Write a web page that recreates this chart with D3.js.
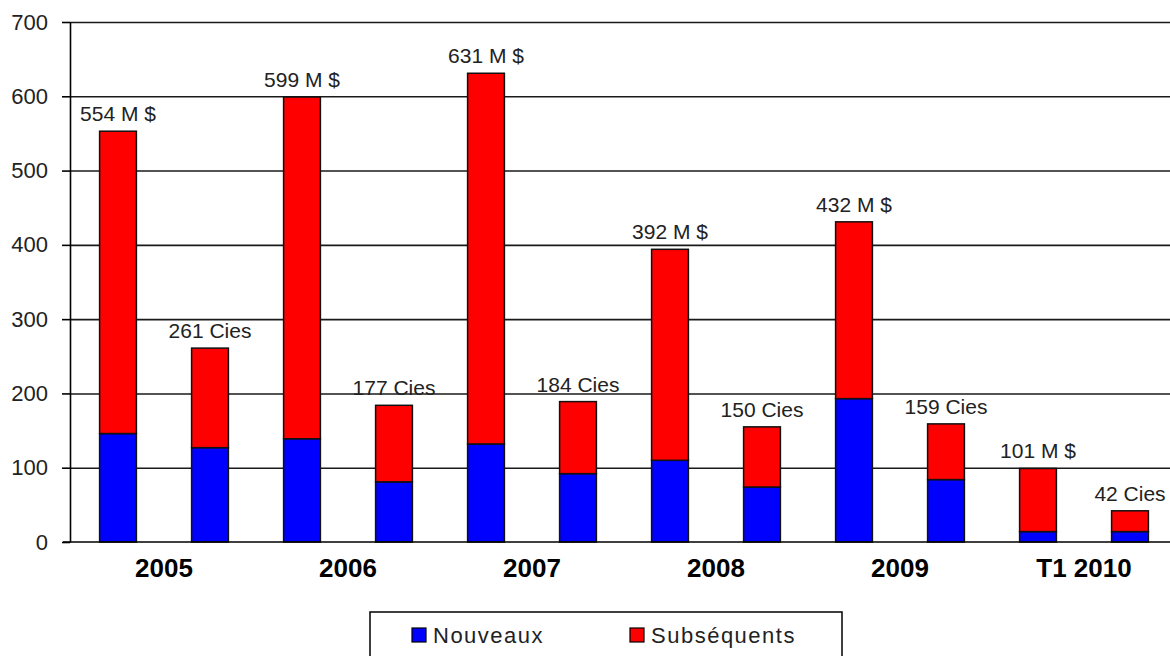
<!DOCTYPE html>
<html>
<head>
<meta charset="utf-8">
<script src="https://cdn.jsdelivr.net/npm/d3@7"></script>
<style>
  body { margin: 0; background: #fff; }
  svg { display: block; font-family: "Liberation Sans", Arial, sans-serif; }
</style>
</head>
<body>
<svg id="chart" width="1170" height="656"></svg>
<script>
// periods on the x axis
const categories = ["2005", "2006", "2007", "2008", "2009", "T1 2010"];

// first bar of each pair: amounts (M $)
const montantNouveaux = [146, 139, 132, 110, 193, 14];
const montantSubsequents = [407, 460, 499, 284, 238, 85];
const montantLabels = ["554 M $", "599 M $", "631 M $", "392 M $", "432 M $", "101 M $"];

// second bar of each pair: number of companies
const ciesNouveaux = [127, 81, 92, 74, 84, 14];
const ciesSubsequents = [134, 103, 97, 81, 75, 28];
const ciesLabels = ["261 Cies", "177 Cies", "184 Cies", "150 Cies", "159 Cies", "42 Cies"];

const yTicks = [0, 100, 200, 300, 400, 500, 600, 700];
const seriesNames = ["Nouveaux", "Subséquents"];
const colors = { Nouveaux: "#0000ff", "Subséquents": "#ff0000" };

const svg = d3.select("#chart");
const plotLeft = 70, plotRight = 1170, plotTop = 22, plotBottom = 542;

const y = d3.scaleLinear().domain([0, 700]).range([plotBottom, plotTop]);
const x0 = d3.scaleBand().domain(categories).range([72, 1176]).padding(0);
const x1 = d3.scaleBand().domain(["m", "c"]).range([0, x0.bandwidth()])
    .paddingInner(0.6).paddingOuter(0.3);

// build one row per bar
const rows = [];
categories.forEach((c, i) => {
    rows.push({ cat: c, key: "m", Nouveaux: montantNouveaux[i], "Subséquents": montantSubsequents[i], label: montantLabels[i] });
    rows.push({ cat: c, key: "c", Nouveaux: ciesNouveaux[i], "Subséquents": ciesSubsequents[i], label: ciesLabels[i] });
});
const stacked = d3.stack().keys(seriesNames)(rows);

// gridlines
svg.append("g")
    .attr("transform", `translate(${plotLeft},0)`)
    .call(d3.axisLeft(y).tickValues(yTicks.slice(1)).tickSize(-(plotRight - plotLeft)).tickFormat(""))
    .call(g => g.select(".domain").remove())
    .call(g => g.selectAll("line").attr("stroke", "#1a1a1a").attr("stroke-width", 1.6));

// left axis with ticks + labels
svg.append("g")
    .attr("transform", `translate(${plotLeft},0)`)
    .call(d3.axisLeft(y).tickValues(yTicks).tickSize(8).tickPadding(14).tickSizeOuter(0))
    .call(g => g.select(".domain").attr("stroke", "#000").attr("stroke-width", 1.6))
    .call(g => g.selectAll("line").attr("stroke", "#000").attr("stroke-width", 1.6))
    .call(g => g.selectAll("text").attr("font-size", 22).attr("fill", "#222")
        .attr("font-family", "Liberation Sans, Arial, sans-serif"));

// bars
svg.append("g").selectAll("g")
    .data(stacked)
    .join("g")
    .attr("fill", d => colors[d.key])
    .selectAll("rect")
    .data(d => d)
    .join("rect")
    .attr("x", d => x0(d.data.cat) + x1(d.data.key))
    .attr("width", x1.bandwidth())
    .attr("y", d => y(d[1]))
    .attr("height", d => y(d[0]) - y(d[1]))
    .attr("stroke", "#111")
    .attr("stroke-width", 1.5);

// value labels above the bars
svg.append("g").selectAll("text")
    .data(rows)
    .join("text")
    .attr("x", d => x0(d.cat) + x1(d.key) + x1.bandwidth() / 2)
    .attr("y", d => y(d.Nouveaux + d["Subséquents"]) - 10)
    .attr("text-anchor", "middle")
    .attr("font-size", 21)
    .attr("fill", "#222")
    .text(d => d.label);

// category axis
svg.append("g")
    .attr("transform", `translate(0,${plotBottom})`)
    .call(d3.axisBottom(x0).tickSize(0).tickPadding(17))
    .call(g => g.select(".domain").remove())
    .call(g => g.selectAll("text").attr("font-size", 26).attr("font-weight", "bold")
        .attr("fill", "#000").attr("font-family", "Liberation Sans, Arial, sans-serif"));

svg.append("line")
    .attr("x1", 63).attr("x2", plotRight)
    .attr("y1", plotBottom).attr("y2", plotBottom)
    .attr("stroke", "#000").attr("stroke-width", 1.6);

// legend
const legend = svg.append("g").attr("transform", "translate(370,612)");
legend.append("rect")
    .attr("width", 472).attr("height", 60)
    .attr("fill", "#fff").attr("stroke", "#000").attr("stroke-width", 1.5);
const items = legend.selectAll("g.item")
    .data(seriesNames)
    .join("g")
    .attr("class", "item")
    .attr("transform", (d, i) => `translate(${i === 0 ? 42 : 260},16)`);
items.append("rect")
    .attr("width", 14).attr("height", 14)
    .attr("fill", d => colors[d])
    .attr("stroke", "#000").attr("stroke-width", 1.2);
items.append("text")
    .attr("x", 21).attr("y", 15)
    .attr("font-size", 22)
    .attr("letter-spacing", 1.5)
    .attr("fill", "#222")
    .text(d => d);
</script>
</body>
</html>
